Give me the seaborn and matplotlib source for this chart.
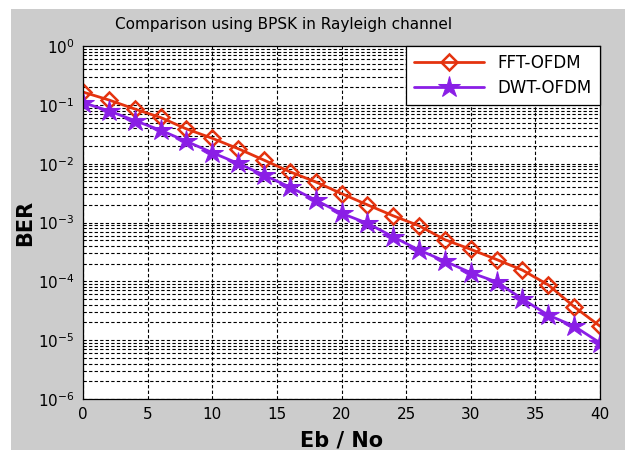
import numpy as np
import pandas as pd
import matplotlib
matplotlib.use('Agg')
import matplotlib.pyplot as plt
import seaborn as sns
from matplotlib.patches import Rectangle
from matplotlib.ticker import LogLocator, NullFormatter

ebno = [0, 2, 4, 6, 8, 10, 12, 14, 16, 18, 20, 22, 24, 26, 28, 30, 32, 34, 36, 38, 40]
ber_fft = [0.165, 0.121, 0.085, 0.061, 0.039, 0.027, 0.018, 0.0115, 0.0073, 0.0049, 0.0031,
           0.0020, 0.0013, 8.8e-4, 5.1e-4, 3.5e-4, 2.35e-4, 1.55e-4, 8.7e-5, 3.7e-5, 1.73e-5]
ber_dwt = [0.109, 0.079, 0.054, 0.037, 0.024, 0.0154, 0.0101, 0.0064, 0.0040, 0.0024, 0.00143,
           9.7e-4, 5.7e-4, 3.4e-4, 2.2e-4, 1.4e-4, 9.8e-5, 5.0e-5, 2.66e-5, 1.73e-5, 9.0e-6]

df = pd.DataFrame({'ebno': ebno, 'fft': ber_fft, 'dwt': ber_dwt})

sns.set_style('white')
plt.rcParams['font.family'] = ['DejaVu Sans']
plt.rcParams['text.color'] = 'black'
plt.rcParams['axes.labelcolor'] = 'black'

fig = plt.figure(figsize=(6.25, 4.5), dpi=100, facecolor='white')
# grey matlab-like figure background (page is cropped at top/left)
fig.patches.append(Rectangle((11 / 625, 0), 1, (450 - 9) / 450, transform=fig.transFigure,
                             facecolor='#cccccc', edgecolor='none', zorder=-10))
ax = fig.add_axes([83 / 625, 51 / 450, 517 / 625, 353 / 450])
ax.set_facecolor('white')

sns.lineplot(data=df, x='ebno', y='fft', ax=ax, color='#e4330f', linewidth=2,
             marker='D', markersize=8.5, markerfacecolor='none', markeredgecolor='#e4330f',
             markeredgewidth=1.8, label='FFT-OFDM')
sns.lineplot(data=df, x='ebno', y='dwt', ax=ax, color='#8a1ee6', linewidth=2,
             marker='*', markersize=16, markerfacecolor='#8a1ee6', markeredgecolor='#8a1ee6',
             label='DWT-OFDM')

ax.set_yscale('log')
ax.set_ylim(1e-6, 1)
ax.set_xlim(0, 40)
ax.set_xticks([0, 5, 10, 15, 20, 25, 30, 35, 40])
ax.yaxis.set_major_locator(LogLocator(base=10, numticks=10))
ax.yaxis.set_minor_locator(LogLocator(base=10, subs=np.arange(2, 10), numticks=10))
ax.yaxis.set_minor_formatter(NullFormatter())

ax.grid(True, which='major', axis='both', color='black', linestyle=(0, (3, 2)), linewidth=0.8)
ax.grid(True, which='minor', axis='y', color='black', linestyle=(0, (3, 2)), linewidth=0.8)
ax.tick_params(axis='both', which='both', direction='in', labelsize=11, colors='black')
ax.tick_params(which='major', length=4, pad=6)
ax.tick_params(which='minor', length=2)
for s in ax.spines.values():
    s.set_color('black')
    s.set_linewidth(0.9)

ax.set_xlabel('Eb / No', fontsize=15, fontweight='bold', labelpad=6)
ax.set_ylabel('BER', fontsize=15, fontweight='bold', labelpad=2)
fig.text(284 / 625, 1 - 25 / 450, 'Comparison using BPSK in Rayleigh channel',
         fontsize=11, ha='center', va='center')

leg = ax.legend(loc='upper right', borderaxespad=0, fontsize=12, fancybox=False,
                framealpha=1, edgecolor='black', handlelength=4.2, borderpad=0.5,
                labelspacing=0.4)
leg.get_frame().set_linewidth(0.9)

fig.savefig('out.png', dpi=100, facecolor=fig.get_facecolor())
